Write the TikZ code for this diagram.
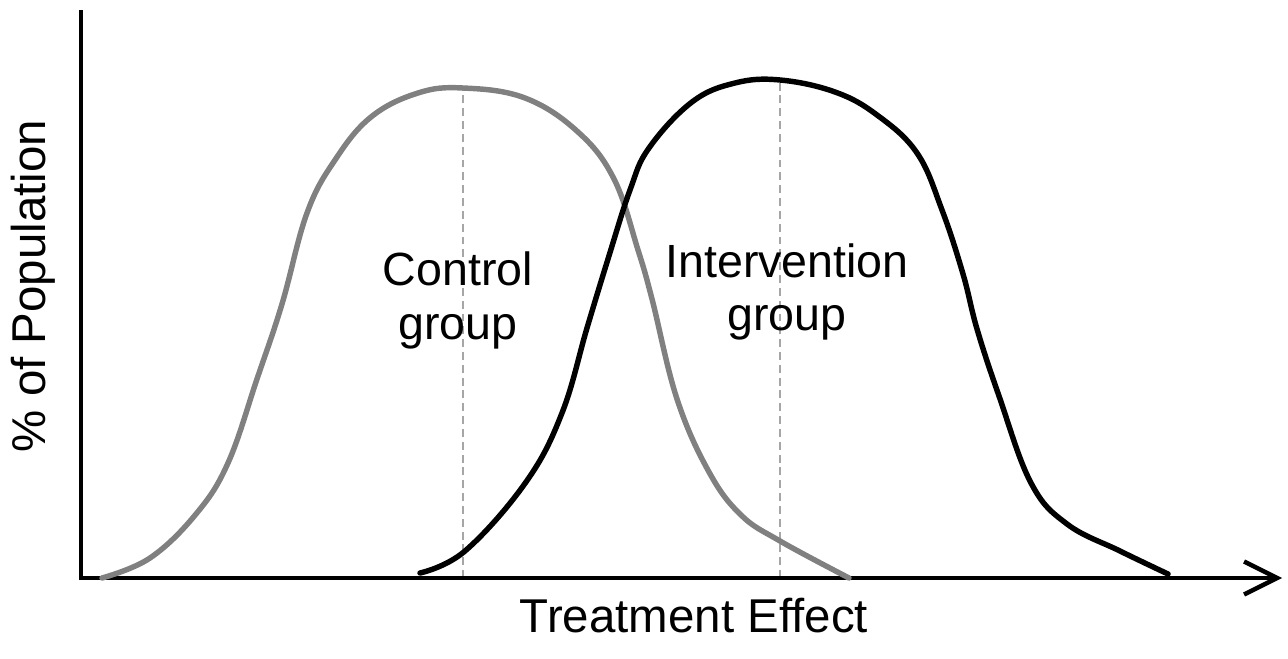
\documentclass[tikz,border=0pt]{standalone}
\usepackage{fontspec}
\setmainfont{Liberation Sans}
\usepackage{xcolor}
\usepackage{tikz}
\usetikzlibrary{positioning, arrows.meta}
\definecolor{controlgray}{HTML}{808080}
\definecolor{meangray}{HTML}{A6A6A6}

\tikzset{
  axisline/.style={line width=2.5pt, black},
  bellcurve/.style={line width=3.1pt, line cap=round, smooth, tension=0.65},
  meanline/.style={meangray, line width=1.2pt, dash pattern=on 4.5pt off 2.8pt},
  grouptext/.style={inner sep=0pt, align=center, font=\fontsize{26.5}{30.5}\selectfont},
  axistext/.style={inner sep=0pt, font=\fontsize{27}{32}\selectfont}
}

\begin{document}
\begin{tikzpicture}[x=2cm, y=2cm]
    \useasboundingbox (-0.81,-0.80) rectangle (12.07,5.78);
    \coordinate (origin) at (0,0);
    \coordinate (ytop) at (0,5.68);
    \coordinate (xend) at (12.01,0);
    \coordinate (cpeak) at (3.82,4.90);
    \coordinate (cfoot) at (3.82,0);
    \coordinate (ipeak) at (6.99,4.98);
    \coordinate (ifoot) at (6.99,0);

    % means
    \draw[meanline] (cfoot) -- (cpeak);
    \draw[meanline, line width=1.6pt] (ifoot) -- (ipeak);

    % axes
    \draw[axisline, -{Straight Barb[length=0.66cm, width=0.66cm, line width=2.5pt]}]
      (ytop) -- (origin) -- (xend);

    % control group
    \draw[bellcurve, controlgray] plot coordinates {
      (0.21,0.00) (0.69,0.20) (1.15,0.64) (1.47,1.15) (1.76,1.99) (2.01,2.74)
      (2.26,3.65) (2.54,4.18) (2.90,4.61) (3.37,4.85) (3.82,4.90)
      (4.44,4.80) (4.97,4.46) (5.33,3.99) (5.57,3.28) (5.71,2.79) (5.96,1.79)
      (6.28,1.06) (6.60,0.63) (6.99,0.37) (7.68,0.00)};

    % intervention group
    \draw[bellcurve, black] plot coordinates {
      (3.39,0.05) (3.84,0.27) (4.45,0.96) (4.81,1.65) (5.06,2.50) (5.27,3.19)
      (5.49,3.88) (5.68,4.30) (6.11,4.76) (6.54,4.95) (6.99,4.98)
      (7.54,4.86) (7.96,4.63) (8.36,4.25) (8.61,3.68) (8.82,3.04) (8.96,2.49)
      (9.18,1.82) (9.50,0.95) (9.86,0.54) (10.39,0.27) (10.87,0.04)};

    \node[grouptext] (ctrl) at (3.77,2.775) {Control\\group};
    \node[grouptext] (interv) at (7.06,2.86) {Intervention\\group};
    \node[axistext, anchor=base] (xlab) at (6.13,-0.54) {Treatment Effect};
    \node[axistext, anchor=base, rotate=90] (ylab) at (-0.35,2.92) {\% of Population};
  \end{tikzpicture}
\end{document}
